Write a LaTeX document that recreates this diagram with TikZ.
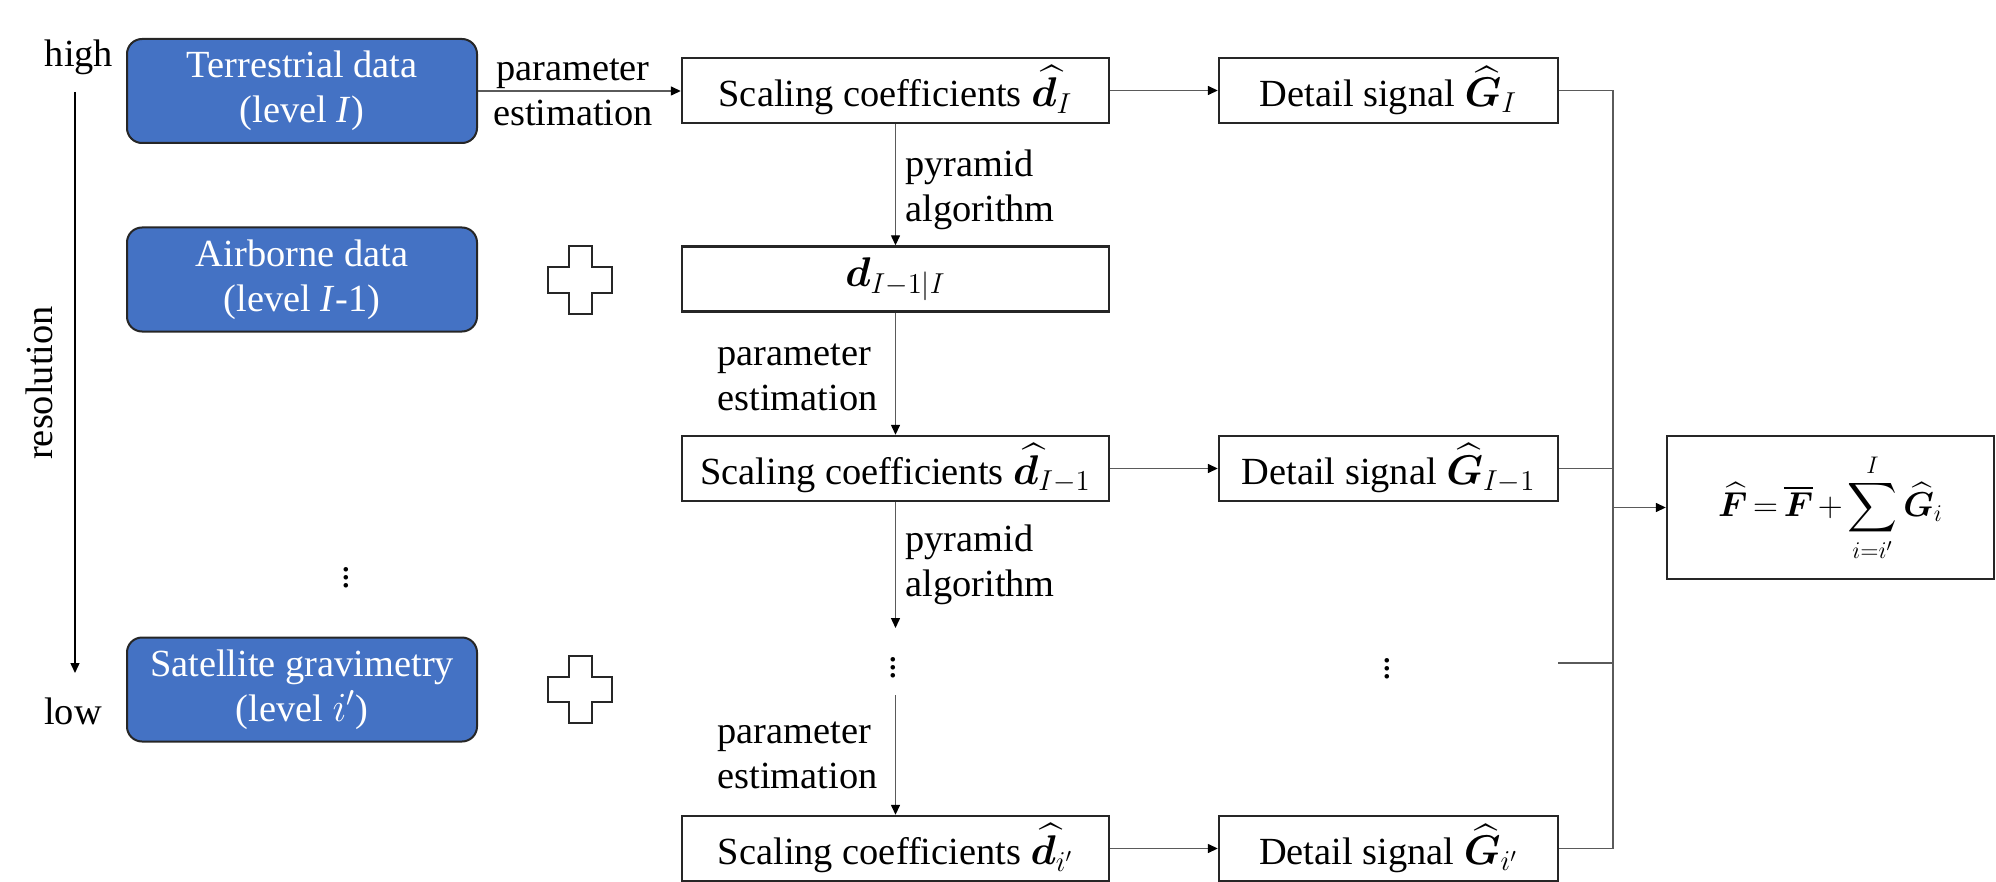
\documentclass[tikz,border=0pt]{standalone}
\usepackage{fontspec}
\setmainfont{Liberation Serif}
\usepackage{amsmath,bm}
\usetikzlibrary{arrows.meta}
\definecolor{bluefill}{HTML}{4472C4}
\definecolor{edge}{HTML}{262626}
\definecolor{conncol}{HTML}{5A5A5A}
\begin{document}
\begin{tikzpicture}[x=0.5pt,y=-0.5pt,
  font=\fontsize{19.2}{22.5}\selectfont,
  bluebox/.style={draw=edge, line width=1pt, fill=bluefill, rounded corners=7.5pt,
    minimum width=175pt, minimum height=52pt, text=white, align=center, inner sep=0pt},
  wbox/.style={draw=edge, line width=1.2pt, fill=white, minimum width=213.5pt,
    minimum height=32.5pt, inner sep=0pt},
  gbox/.style={wbox, minimum width=169.5pt},
  conn/.style={draw=conncol, line width=0.7pt},
  arr/.style={conn, -{Triangle[length=5pt,width=4.5pt,color=black]}},
  lbl/.style={inner sep=0pt, align=left},
  plusshape/.pic={
    \draw[edge, line width=1pt, fill=white]
      (-11.5,-33.5) -- (11.5,-33.5) -- (11.5,-12.5) -- (32,-12.5) -- (32,12.5)
      -- (11.5,12.5) -- (11.5,33.5) -- (-11.5,33.5) -- (-11.5,12.5) -- (-32,12.5)
      -- (-32,-12.5) -- (-11.5,-12.5) -- cycle;
  }]
\useasboundingbox (0,0) rectangle (1996,882);

% left column
\node (high) at (79,57) {high};
\node (low) at (73,711) {low};
\node[rotate=90] (res) at (39,383) {resolution};
\coordinate (rtop) at (75,92);
\coordinate (rbot) at (75,673);
\draw[arr, draw=black] (rtop) -- (rbot);

\node[bluebox] (T) at (302,91) {Terrestrial data\\(level \textit{I})};
\node[bluebox] (A) at (302,279.5) {Airborne data\\(level \textit{I}-1)};
\node[bluebox] (S) at (302,689.5) {Satellite gravimetry\\(level $i'$)};
\node (vd1) at (346,572) {$\vdots$};

\pic at (580,280) {plusshape};
\pic at (580,689) {plusshape};

% middle column
\node[wbox] (s1) at (895.5,90.5) {Scaling coefficients $\widehat{\bm d}_I$};
\node[wbox] (dd) at (895.5,279) {$\bm d_{I-1|I}$};
\node[wbox] (s2) at (895.5,468.5) {Scaling coefficients $\widehat{\bm d}_{I-1}$};
\node[wbox] (s3) at (895.5,848.5) {Scaling coefficients $\widehat{\bm d}_{i'}$};

% detail column
\node[gbox] (g1) at (1388.5,90.5) {Detail signal $\widehat{\bm G}_I$};
\node[gbox] (g2) at (1388.5,468.5) {Detail signal $\widehat{\bm G}_{I-1}$};
\node[gbox] (g3) at (1388.5,848.5) {Detail signal $\widehat{\bm G}_{i'}$};
\node (vd2) at (1387,663) {$\vdots$};

% result
\node[draw=edge, line width=1.2pt, minimum width=163.5pt, minimum height=71.5pt, inner sep=0pt,
  font=\fontsize{17.5}{21}\selectfont]
  (F) at (1830.5,507.5) {\thickmuskip=3mu\medmuskip=2.5mu$\displaystyle \widehat{\bm F}=\overline{\bm F}+\sum_{i=i'}^{I}\widehat{\bm G}_i$};

% horizontal flow
\draw[arr] (T.east) -- (T.east -| s1.west);
\node[lbl, align=center] (pe1) at (573,92) {parameter\\estimation};
\draw[arr] (s1.east) -- (g1.west);
\draw[arr] (s2.east) -- (g2.west);
\draw[arr] (s3.east) -- (g3.west);

% vertical flow
\draw[arr] (s1.south) -- (dd.north);
\node[lbl, anchor=west] (pa1) at (905,190) {pyramid\\algorithm};
\draw[arr] (dd.south) -- (s2.north);
\node[lbl, anchor=east] (pe2) at (878,377) {parameter\\estimation};
\coordinate (m1) at (895.5,628);
\draw[arr] (s2.south) -- (m1);
\node[lbl, anchor=west] (pa2) at (905,565) {pyramid\\algorithm};
\node (vd3) at (893,662) {$\vdots$};
\coordinate (m2) at (895.5,695);
\draw[arr] (m2) -- (s3.north);
\node[lbl, anchor=east] (pe3) at (878,755) {parameter\\estimation};

% collector bus
\coordinate (bus) at (1613,0);
\coordinate (dl) at (1558,663);
\draw[conn] (g1.east) -- (g1.east -| bus) -- (g3.east -| bus) -- (g3.east);
\draw[conn] (g2.east) -- (g2.east -| bus);
\draw[conn] (dl) -- (dl -| bus);
\draw[arr] (F.west -| bus) -- (F.west);
\end{tikzpicture}
\end{document}
